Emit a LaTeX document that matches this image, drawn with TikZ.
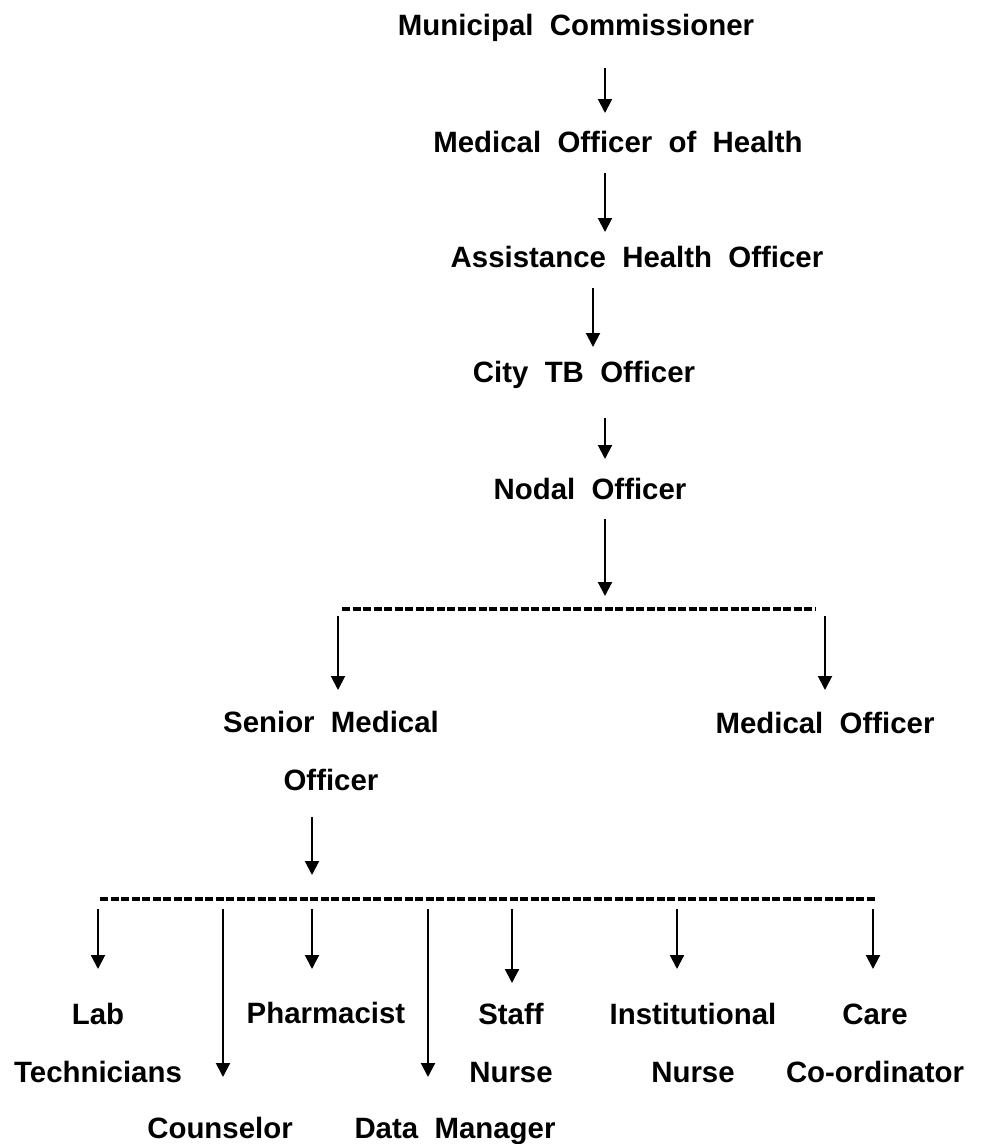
\documentclass[tikz,border=0pt]{standalone}
\usepackage{fontspec}
\setmainfont{Liberation Sans}
\usetikzlibrary{arrows.meta}
\begin{document}
\begin{tikzpicture}[x=1pt,y=-1pt,
  lbl/.style={anchor=base,inner sep=0pt,align=center,
    font=\fontsize{29.4pt}{58pt}\selectfont\bfseries},
  arr/.style={line width=2pt,-{Triangle[length=14pt,width=14pt]}},
  bus/.style={line width=3.5pt,dash pattern=on 8pt off 2.5pt}]
\useasboundingbox (0,0) rectangle (1008,1144);
% nodes (multi-line nodes are placed by the baseline of their last line)
\node[lbl] (mc)  at (576,35)  {Municipal~~Commissioner};
\node[lbl] (moh) at (618,152) {Medical~~Officer~~of~~Health};
\node[lbl] (aho) at (637,267) {Assistance~~Health~~Officer};
\node[lbl] (cto) at (584,382) {City~~TB~~Officer};
\node[lbl] (no)  at (590,499) {Nodal~~Officer};
\node[lbl] (smo) at (331,790) {Senior~~Medical\\Officer};
\node[lbl] (mo)  at (825,733) {Medical~~Officer};
\node[lbl] (lab) at (98,1082) {Lab\\Technicians};
\node[lbl] (cou) at (220,1138) {Counselor};
\node[lbl] (ph)  at (326,1023) {Pharmacist};
\node[lbl] (dm)  at (455,1138) {Data~~Manager};
\node[lbl] (sn)  at (511,1082) {Staff\\Nurse};
\node[lbl] (in)  at (693,1082) {Institutional\\Nurse};
\node[lbl] (cc)  at (875,1082) {Care\\Co-ordinator};
% coordinates
\coordinate (a1s) at (605,68);  \coordinate (a1e) at (605,113);
\coordinate (a2s) at (605,173); \coordinate (a2e) at (605,232);
\coordinate (a3s) at (593,288); \coordinate (a3e) at (593,347);
\coordinate (a4s) at (605,418); \coordinate (a4e) at (605,459);
\coordinate (a5s) at (605,519); \coordinate (a5e) at (605,596);
\coordinate (b1l) at (342,609); \coordinate (b1r) at (816,609);
\coordinate (s1a) at (338,616); \coordinate (e1a) at (338,690);
\coordinate (s1b) at (825,616); \coordinate (e1b) at (825,690);
\coordinate (a6s) at (312,817); \coordinate (a6e) at (312,875);
\coordinate (b2l) at (100,899); \coordinate (b2r) at (875,899);
% connectors
\draw[arr] (a1s) -- (a1e);
\draw[arr] (a2s) -- (a2e);
\draw[arr] (a3s) -- (a3e);
\draw[arr] (a4s) -- (a4e);
\draw[arr] (a5s) -- (a5e);
\draw[bus] (b1l) -- (b1r);
\draw[arr] (s1a) -- (e1a);
\draw[arr] (s1b) -- (e1b);
\draw[arr] (a6s) -- (a6e);
\draw[bus] (b2l) -- (b2r);
\foreach \x/\y in {98/969,223/1077,312/969,428/1077,512/983,677/969,873/969}
  \draw[arr] (\x,909) -- (\x,\y);
\end{tikzpicture}
\end{document}
